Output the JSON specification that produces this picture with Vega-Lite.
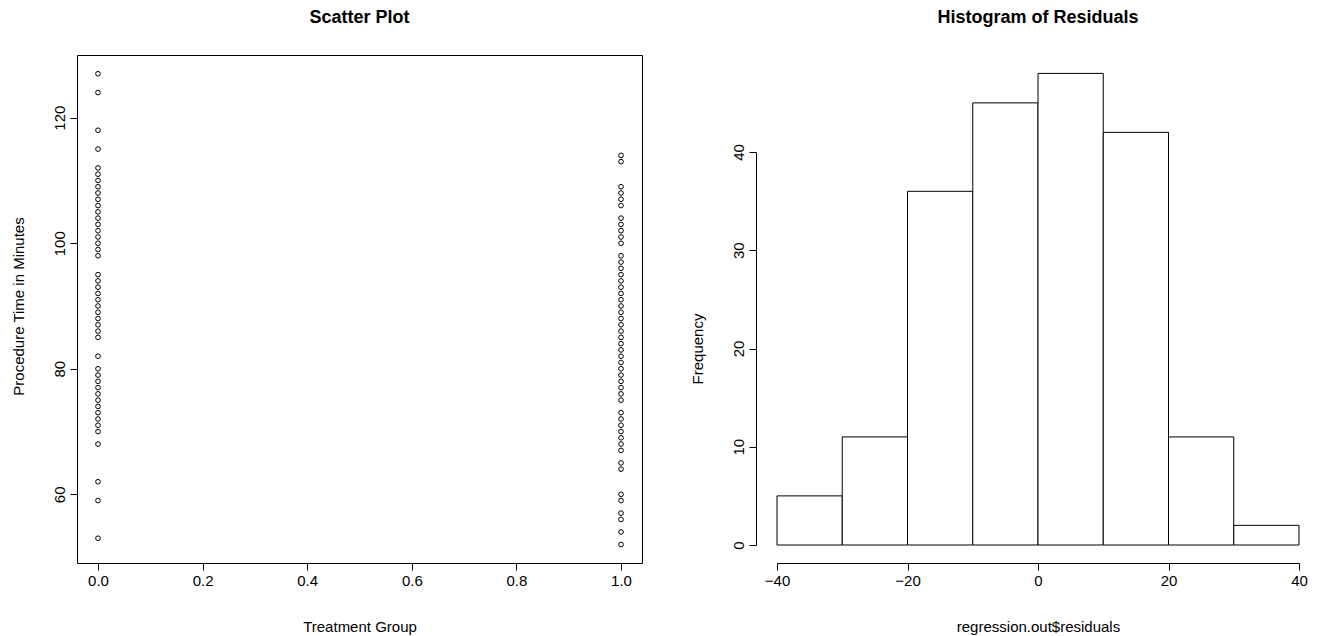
{
  "$schema": "https://vega.github.io/schema/vega-lite/v6.json",
  "padding": {"left": 10, "top": 8, "right": 0, "bottom": 0},
  "background": "white",
  "bounds": "flush",
  "spacing": 114,
  "config": {
    "font": "Liberation Sans",
    "view": {"stroke": null},
    "axis": {
      "grid": false,
      "domainColor": "black",
      "domainWidth": 1,
      "tickColor": "black",
      "tickWidth": 1,
      "tickSize": 7,
      "labelPadding": 3,
      "labelFontSize": 15,
      "labelColor": "black",
      "labelFont": "Liberation Sans",
      "labelFlush": false,
      "labelOverlap": false,
      "titleFontSize": 15,
      "titleFontWeight": "normal",
      "titleColor": "black",
      "titleFont": "Liberation Sans"
    },
    "axisX": {"titlePadding": 31},
    "axisY": {"titlePadding": 26, "labelAngle": 270, "labelAlign": "center", "labelBaseline": "bottom"}
  },
  "datasets": {
    "scatter": [
      {"group": 0, "time": 127}, {"group": 0, "time": 124}, {"group": 0, "time": 118}, {"group": 0, "time": 115},
      {"group": 0, "time": 112}, {"group": 0, "time": 111}, {"group": 0, "time": 110}, {"group": 0, "time": 109},
      {"group": 0, "time": 108}, {"group": 0, "time": 107}, {"group": 0, "time": 106}, {"group": 0, "time": 105},
      {"group": 0, "time": 104}, {"group": 0, "time": 103}, {"group": 0, "time": 102}, {"group": 0, "time": 101},
      {"group": 0, "time": 100}, {"group": 0, "time": 99}, {"group": 0, "time": 98}, {"group": 0, "time": 95},
      {"group": 0, "time": 94}, {"group": 0, "time": 93}, {"group": 0, "time": 92}, {"group": 0, "time": 91},
      {"group": 0, "time": 90}, {"group": 0, "time": 89}, {"group": 0, "time": 88}, {"group": 0, "time": 87},
      {"group": 0, "time": 86}, {"group": 0, "time": 85}, {"group": 0, "time": 82}, {"group": 0, "time": 80},
      {"group": 0, "time": 79}, {"group": 0, "time": 78}, {"group": 0, "time": 77}, {"group": 0, "time": 76},
      {"group": 0, "time": 75}, {"group": 0, "time": 74}, {"group": 0, "time": 73}, {"group": 0, "time": 72},
      {"group": 0, "time": 71}, {"group": 0, "time": 70}, {"group": 0, "time": 68}, {"group": 0, "time": 62},
      {"group": 0, "time": 59}, {"group": 0, "time": 53},
      {"group": 1, "time": 114}, {"group": 1, "time": 113}, {"group": 1, "time": 109}, {"group": 1, "time": 108},
      {"group": 1, "time": 107}, {"group": 1, "time": 106}, {"group": 1, "time": 104}, {"group": 1, "time": 103},
      {"group": 1, "time": 102}, {"group": 1, "time": 101}, {"group": 1, "time": 100}, {"group": 1, "time": 98},
      {"group": 1, "time": 97}, {"group": 1, "time": 96}, {"group": 1, "time": 95}, {"group": 1, "time": 94},
      {"group": 1, "time": 93}, {"group": 1, "time": 92}, {"group": 1, "time": 91}, {"group": 1, "time": 90},
      {"group": 1, "time": 89}, {"group": 1, "time": 88}, {"group": 1, "time": 87}, {"group": 1, "time": 86},
      {"group": 1, "time": 85}, {"group": 1, "time": 84}, {"group": 1, "time": 83}, {"group": 1, "time": 82},
      {"group": 1, "time": 81}, {"group": 1, "time": 80}, {"group": 1, "time": 79}, {"group": 1, "time": 78},
      {"group": 1, "time": 77}, {"group": 1, "time": 76}, {"group": 1, "time": 75}, {"group": 1, "time": 73},
      {"group": 1, "time": 72}, {"group": 1, "time": 71}, {"group": 1, "time": 70}, {"group": 1, "time": 69},
      {"group": 1, "time": 68}, {"group": 1, "time": 67}, {"group": 1, "time": 65}, {"group": 1, "time": 64},
      {"group": 1, "time": 60}, {"group": 1, "time": 59}, {"group": 1, "time": 57}, {"group": 1, "time": 56},
      {"group": 1, "time": 54}, {"group": 1, "time": 52}
    ],
    "hist": [
      {"bin_start": -40, "bin_end": -30, "count": 5},
      {"bin_start": -30, "bin_end": -20, "count": 11},
      {"bin_start": -20, "bin_end": -10, "count": 36},
      {"bin_start": -10, "bin_end": 0, "count": 45},
      {"bin_start": 0, "bin_end": 10, "count": 48},
      {"bin_start": 10, "bin_end": 20, "count": 42},
      {"bin_start": 20, "bin_end": 30, "count": 11},
      {"bin_start": 30, "bin_end": 40, "count": 2}
    ]
  },
  "hconcat": [
    {
      "width": 565,
      "height": 508,
      "title": {"text": "Scatter Plot", "fontSize": 18, "fontWeight": "bold", "anchor": "middle", "frame": "group", "offset": 14, "baseline": "alphabetic", "color": "black", "font": "Liberation Sans"},
      "view": {"stroke": "black", "strokeWidth": 1},
      "data": {"name": "scatter"},
      "mark": {"type": "point", "shape": "circle", "filled": false, "size": 22, "stroke": "black", "strokeWidth": 1, "opacity": 1},
      "encoding": {
        "x": {"field": "group", "type": "quantitative",
              "scale": {"domain": [0, 1], "range": [21, 544], "nice": false, "zero": false},
              "axis": {"values": [0, 0.2, 0.4, 0.6, 0.8, 1], "format": ".1f", "title": "Treatment Group"}},
        "y": {"field": "time", "type": "quantitative",
              "scale": {"domain": [60, 120], "range": [439.3, 62.7], "nice": false, "zero": false},
              "axis": {"values": [60, 80, 100, 120], "title": "Procedure Time in Minutes"}}
      }
    },
    {
      "width": 564,
      "height": 508,
      "title": {"text": "Histogram of Residuals", "fontSize": 18, "fontWeight": "bold", "anchor": "middle", "frame": "group", "offset": 14, "baseline": "alphabetic", "color": "black", "font": "Liberation Sans"},
      "data": {"name": "hist"},
      "mark": {"type": "rect", "fill": "white", "stroke": "black", "strokeWidth": 1},
      "encoding": {
        "x": {"field": "bin_start", "type": "quantitative",
              "scale": {"domain": [-40, 40], "range": [21, 543], "nice": false, "zero": false},
              "axis": {"values": [-40, -20, 0, 20, 40], "title": "regression.out$residuals"}},
        "x2": {"field": "bin_end"},
        "y": {"field": "count", "type": "quantitative",
              "scale": {"domain": [0, 40], "range": [490, 97], "nice": false, "zero": false},
              "axis": {"values": [0, 10, 20, 30, 40], "title": "Frequency"}},
        "y2": {"datum": 0}
      }
    }
  ]
}
